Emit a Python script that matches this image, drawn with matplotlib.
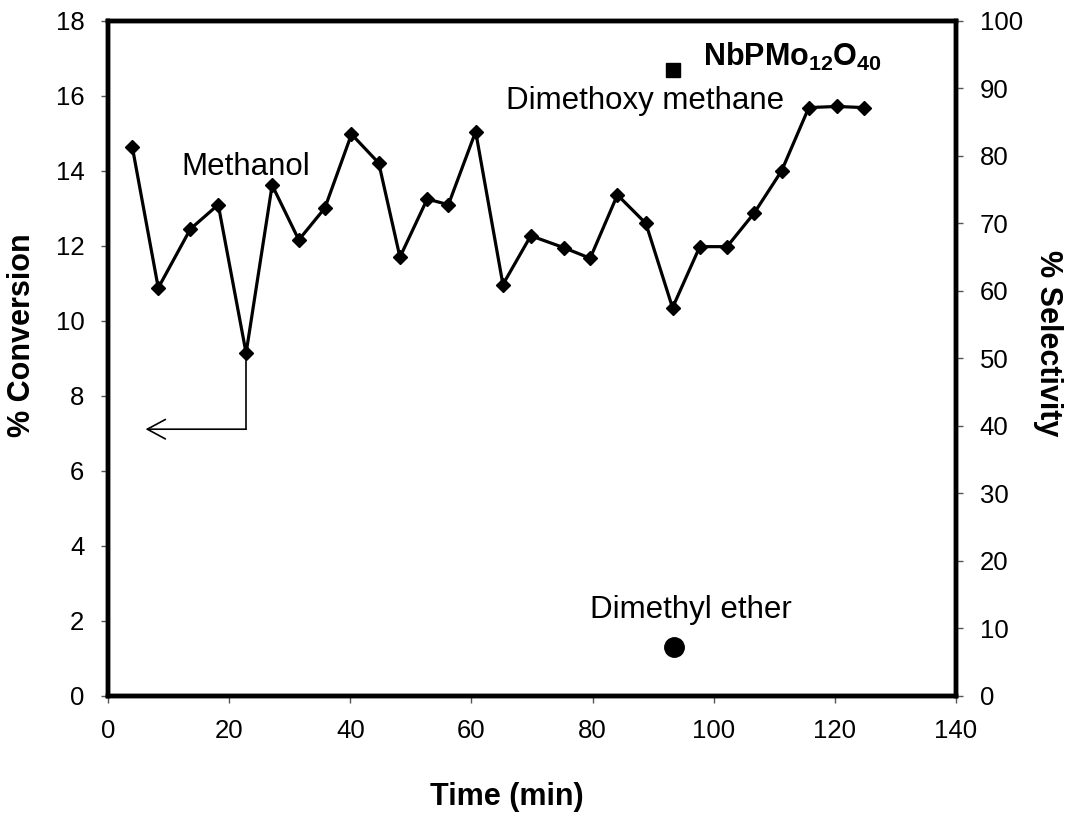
import matplotlib
matplotlib.use("Agg")
import matplotlib.pyplot as plt

plt.rcParams['font.family'] = ['Liberation Sans', 'DejaVu Sans']
plt.rcParams['mathtext.fontset'] = 'custom'
plt.rcParams['mathtext.rm'] = 'Liberation Sans'
plt.rcParams['mathtext.bf'] = 'Liberation Sans:bold'

# ---- data ----
time_min = [4.0, 8.3, 13.6, 18.2, 22.8, 27.1, 31.5, 35.8, 40.2, 44.7, 48.2, 52.7,
            56.2, 60.7, 65.2, 69.8, 75.3, 79.6, 84.1, 88.8, 93.2, 97.7, 102.2,
            106.7, 111.2, 115.7, 120.3, 124.8]
conversion = [14.65, 10.88, 12.45, 13.10, 9.14, 13.62, 12.16, 13.01, 14.98, 14.21,
              11.70, 13.25, 13.10, 15.05, 10.97, 12.27, 11.95, 11.67, 13.36, 12.60,
              10.35, 11.98, 11.98, 12.88, 14.00, 15.69, 15.72, 15.69]
dme_time = [93.5]
dme_selectivity = [7.2]
catalyst_marker_x = [93.3]
catalyst_marker_y = [16.70]

x_ticks = list(range(0, 141, 20))
left_ticks = list(range(0, 19, 2))
right_ticks = list(range(0, 101, 10))

fig = plt.figure(figsize=(10.7, 8.14), dpi=100)
ax = fig.add_axes([108/1070, 1-695.7/814, (956-108)/1070, (695.7-21)/814])
ax2 = ax.twinx()

ax.plot(time_min, conversion, color='black', lw=2.3, marker='D', ms=7,
        mfc='black', mec='black', zorder=3)
ax.plot(catalyst_marker_x, catalyst_marker_y, ls='none', marker='s', ms=10,
        color='black')
ax2.plot(dme_time, dme_selectivity, ls='none', marker='o', ms=14, color='black')

ax.set_xlim(0, 140)
ax.set_ylim(0, 18)
ax2.set_ylim(0, 100)
ax.set_xticks(x_ticks)
ax.set_yticks(left_ticks)
ax2.set_yticks(right_ticks)

for a in (ax, ax2):
    for s in a.spines.values():
        s.set_linewidth(3.2)
    a.tick_params(direction='out', length=5, width=1, color='#555555',
                  labelsize=18.5, pad=12)

# annotations
arrow_start = (22.8, 9.14)
arrow_corner = (22.8, 7.11)
arrow_tip = (6.2, 7.11)
ax.plot([arrow_start[0], arrow_corner[0]], [arrow_start[1], arrow_corner[1]],
        color='black', lw=1.2)
ax.annotate('', xy=arrow_tip, xytext=arrow_corner,
            arrowprops=dict(arrowstyle='->,head_length=1.3,head_width=0.7',
                            lw=1.2, color='black', shrinkA=0, shrinkB=0,
                            mutation_scale=10))

ax.text(22.7, 13.89, 'Methanol', fontsize=22.5, ha='center', va='baseline')
ax.text(88.6, 15.65, 'Dimethoxy methane', fontsize=22.5, ha='center', va='baseline')
ax.text(96.3, 2.07, 'Dimethyl ether', fontsize=22.5, ha='center', va='baseline')
ax.text(98.3, 16.8, r'$\mathbf{NbPMo_{12}O_{40}}$', fontsize=22, ha='left',
        va='baseline')

fig.text(22/1070, 1-335/814, '% Conversion', rotation=90, fontsize=22,
         fontweight='bold', ha='center', va='center')
fig.text(1048/1070, 1-343/814, '% Selectivity', rotation=-90, fontsize=22,
         fontweight='bold', ha='center', va='center')
fig.text(506.7/1070, 1-797/814, 'Time (min)', fontsize=22, fontweight='bold',
         ha='center', va='center')

fig.savefig('out.png', dpi=100)
